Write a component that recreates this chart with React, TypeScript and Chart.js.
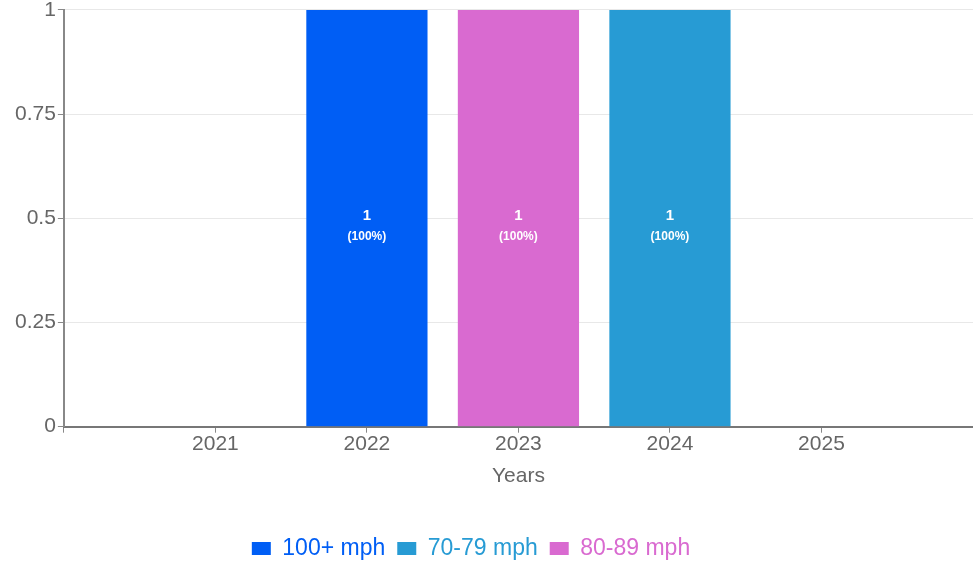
import React, { useEffect, useRef } from "react";
import { Chart, registerables } from "chart.js";

Chart.register(...registerables);

const categories = ["", "2021", "2022", "2023", "2024", "2025", ""];
const series100 = [null, null, 1, null, null, null, null];
const series70 = [null, null, null, null, 1, null, null];
const series80 = [null, null, null, 1, null, null, null];
const yTicks = [0, 0.25, 0.5, 0.75, 1];

const COLORS = {
  s100: "#005ef5",
  s70: "#279bd4",
  s80: "#d96ad0",
};

const FONT = "'Liberation Sans', Arial, sans-serif";
const LEGEND_SHIFT = -22;

const barLabelPlugin = {
  id: "barLabels",
  afterDatasetsDraw(chart: any) {
    const ctx = chart.ctx;
    const datasets = chart.data.datasets;
    ctx.save();
    ctx.fillStyle = "#ffffff";
    ctx.textAlign = "center";
    ctx.textBaseline = "middle";
    datasets.forEach((ds: any, di: number) => {
      const meta = chart.getDatasetMeta(di);
      if (meta.hidden) return;
      meta.data.forEach((el: any, i: number) => {
        const v = ds.data[i];
        if (v == null || v === 0) return;
        let total = 0;
        datasets.forEach((d: any) => {
          const x = d.data[i];
          if (x != null) total += x;
        });
        const pct = Math.round((v / total) * 100);
        const props = el.getProps(["x", "y", "base"], true);
        const cy = (props.y + props.base) / 2;
        ctx.font = `bold 15px ${FONT}`;
        ctx.fillText(String(v), props.x, cy - 2);
        ctx.font = `bold 12px ${FONT}`;
        ctx.fillText(`(${pct}%)`, props.x, cy + 19);
      });
    });
    ctx.restore();
  },
};

const legendShiftPlugin = {
  id: "legendShift",
  afterLayout(chart: any) {
    if (chart.legend) {
      chart.legend.left += LEGEND_SHIFT;
      chart.legend.right += LEGEND_SHIFT;
    }
  },
};

export default function App() {
  const ref = useRef<HTMLCanvasElement | null>(null);

  useEffect(() => {
    if (!ref.current) return;
    const chart = new Chart(ref.current, {
      type: "bar",
      data: {
        labels: categories,
        datasets: [
          { label: "100+ mph", data: series100, backgroundColor: COLORS.s100, borderWidth: 0 },
          { label: "70-79 mph", data: series70, backgroundColor: COLORS.s70, borderWidth: 0 },
          { label: "80-89 mph", data: series80, backgroundColor: COLORS.s80, borderWidth: 0 },
        ],
      },
      options: {
        animation: false,
        responsive: true,
        maintainAspectRatio: false,
        layout: { padding: { top: 0, right: 0, left: 13, bottom: -4 } },
        datasets: {
          bar: { categoryPercentage: 1, barPercentage: 0.8 },
        },
        scales: {
          x: {
            stacked: true,
            offset: false,
            grid: {
              offset: false,
              drawOnChartArea: false,
              drawTicks: true,
              tickLength: 6,
              tickColor: "#888888",
              color: "#888888",
            },
            border: { display: true, color: "#777777", width: 2 },
            ticks: {
              color: "#666666",
              font: { family: FONT, size: 21, lineHeight: 1.1 },
              padding: 0,
              maxRotation: 0,
              autoSkip: false,
            },
            title: {
              display: true,
              text: "Years",
              color: "#666666",
              font: { family: FONT, size: 21 },
              padding: { top: 8, bottom: 36 },
            },
          },
          y: {
            stacked: true,
            min: 0,
            max: 1,
            afterBuildTicks(scale: any) {
              scale.ticks = yTicks.map((v) => ({ value: v }));
            },
            grid: {
              color: "#e8e8e8",
              tickColor: "#888888",
              tickLength: 6,
            },
            border: { display: true, color: "#888888", width: 2 },
            ticks: {
              color: "#666666",
              font: { family: FONT, size: 21, lineHeight: 0.75 },
              padding: 2,
              callback: (v: any) => String(v),
            },
          },
        },
        plugins: {
          tooltip: { enabled: false },
          legend: {
            position: "bottom",
            labels: {
              boxWidth: 19,
              boxHeight: 13,
              padding: 12,
              font: { family: FONT, size: 23, lineHeight: 1 },
              generateLabels(chart: any) {
                const items = (Chart.defaults.plugins.legend.labels as any).generateLabels(chart);
                return items.map((it: any) => ({
                  ...it,
                  fontColor: it.fillStyle,
                }));
              },
            },
          },
        },
      },
      plugins: [barLabelPlugin, legendShiftPlugin],
    });
    return () => chart.destroy();
  }, []);

  return (
    <div style={{ position: "absolute", left: 0, top: 0, width: 973, height: 566, background: "#ffffff" }}>
      <canvas ref={ref} />
    </div>
  );
}
